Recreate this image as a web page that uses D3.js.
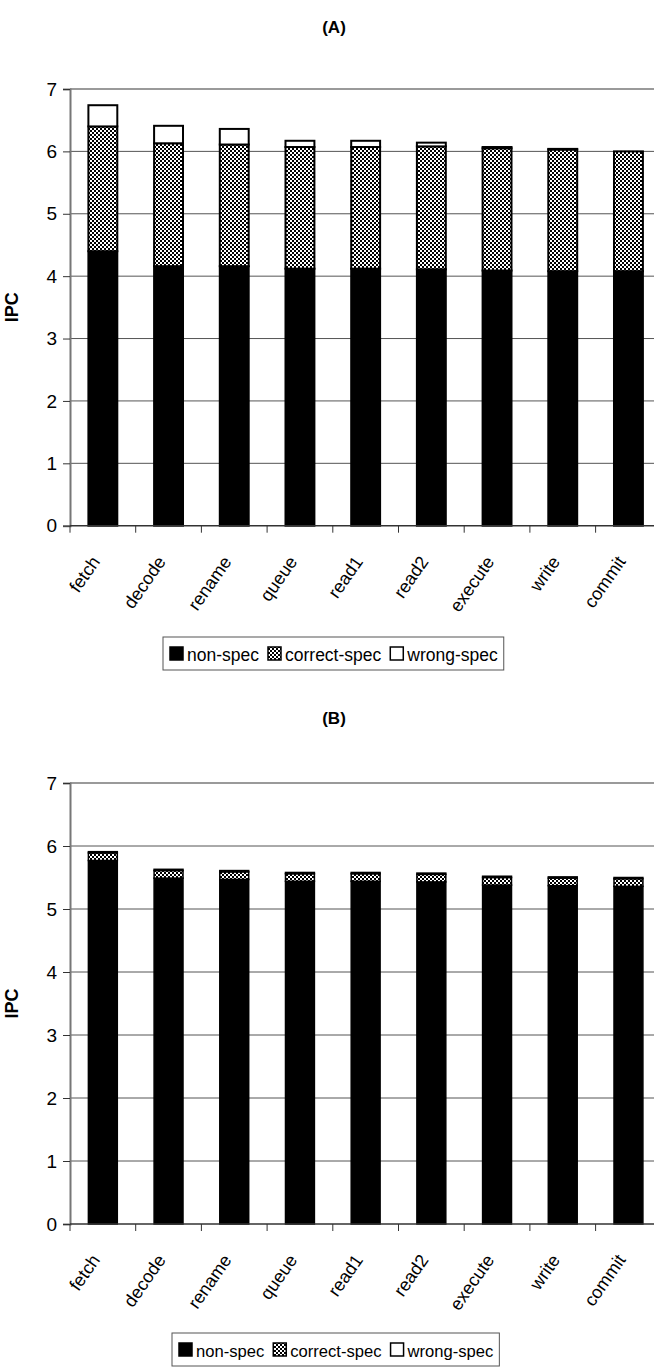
<!DOCTYPE html>
<html>
<head>
<meta charset="utf-8">
<script src="https://cdn.jsdelivr.net/npm/d3@7"></script>
<style>
  html, body { margin: 0; padding: 0; background: #fff; }
  svg { display: block; }
  text { font-family: "Liberation Sans", Arial, sans-serif; fill: #000; }
</style>
</head>
<body>
<svg id="chart" width="654" height="1370"></svg>
<script>
// Pipeline stages along the x axis
const stages = ["fetch", "decode", "rename", "queue", "read1", "read2", "execute", "write", "commit"];
const seriesNames = ["non-spec", "correct-spec", "wrong-spec"];
const yTicks = [0, 1, 2, 3, 4, 5, 6, 7];

// Panel (A): IPC per stage
const nonSpecA     = [4.40, 4.16, 4.16, 4.12, 4.12, 4.11, 4.09, 4.08, 4.08];
const correctSpecA = [2.00, 1.97, 1.95, 1.95, 1.95, 1.97, 1.96, 1.95, 1.92];
const wrongSpecA   = [0.34, 0.28, 0.25, 0.10, 0.10, 0.06, 0.02, 0.01, 0.00];

// Panel (B): IPC per stage
const nonSpecB     = [5.77, 5.49, 5.47, 5.44, 5.44, 5.43, 5.38, 5.37, 5.36];
const correctSpecB = [0.12, 0.12, 0.12, 0.12, 0.12, 0.12, 0.12, 0.12, 0.12];
const wrongSpecB   = [0.02, 0.02, 0.02, 0.02, 0.02, 0.02, 0.02, 0.02, 0.02];

const svg = d3.select("#chart");

// checkerboard fill for the correct-spec segments
const defs = svg.append("defs");
const pat = defs.append("pattern")
  .attr("id", "checker").attr("patternUnits", "userSpaceOnUse")
  .attr("width", 4).attr("height", 4);
pat.append("rect").attr("width", 4).attr("height", 4).attr("fill", "#fff");
pat.append("rect").attr("width", 2).attr("height", 2).attr("fill", "#000");
pat.append("rect").attr("x", 2).attr("y", 2).attr("width", 2).attr("height", 2).attr("fill", "#000");

const fills = { "non-spec": "#000", "correct-spec": "url(#checker)", "wrong-spec": "#fff" };

function drawPanel(cfg) {
  const { title, titleY, top, bottom, nonSpec, correctSpec, wrongSpec, legend, strokeW } = cfg;
  const left = 70, right = 661.3;

  const x = d3.scaleBand().domain(stages).range([left, right])
    .paddingInner(0.56).paddingOuter(0.28);
  const y = d3.scaleLinear().domain([0, 7]).range([bottom, top]);

  const g = svg.append("g");

  // title
  g.append("text").attr("x", 334).attr("y", titleY)
    .attr("text-anchor", "middle").attr("font-weight", "bold").attr("font-size", 17)
    .text(title);

  // horizontal gridlines
  g.append("g").selectAll("line").data(yTicks.filter(d => d > 0)).join("line")
    .attr("x1", left).attr("x2", 654)
    .attr("y1", d => y(d)).attr("y2", d => y(d))
    .attr("stroke", d => d === 7 ? "#9a9a9a" : "#555")
    .attr("stroke-width", d => d === 7 ? 2 : 1);

  // stacked bars
  const rows = stages.map((s, i) => ({
    stage: s,
    "non-spec": nonSpec[i], "correct-spec": correctSpec[i], "wrong-spec": wrongSpec[i]
  }));
  const stacked = d3.stack().keys(seriesNames)(rows);
  g.append("g").selectAll("g").data(stacked).join("g")
    .attr("fill", d => fills[d.key])
    .selectAll("rect").data(d => d.filter(p => p[1] - p[0] > 0)).join("rect")
    .attr("x", d => x(d.data.stage))
    .attr("width", x.bandwidth())
    .attr("y", d => y(d[1]))
    .attr("height", d => y(d[0]) - y(d[1]))
    .attr("stroke", "#000").attr("stroke-width", strokeW);

  // y axis
  const yAxis = g.append("g").attr("transform", `translate(${left},0)`)
    .call(d3.axisLeft(y).tickValues(yTicks).tickSize(7).tickPadding(6).tickFormat(d3.format("d")));
  yAxis.select(".domain").attr("stroke", "#777").attr("stroke-width", 2);
  yAxis.selectAll(".tick line").attr("stroke", "#333");
  yAxis.selectAll(".tick text").attr("font-size", 19).attr("font-family", "Liberation Sans, Arial, sans-serif");

  // x axis with ticks between categories
  const boundaries = d3.range(stages.length + 1).map(i => left + i * x.step());
  g.append("line").attr("x1", left).attr("x2", 654)
    .attr("y1", bottom).attr("y2", bottom).attr("stroke", "#333").attr("stroke-width", 1.5);
  g.append("g").selectAll("line").data(boundaries.filter(b => b < 654)).join("line")
    .attr("x1", d => d).attr("x2", d => d)
    .attr("y1", bottom).attr("y2", bottom + 7).attr("stroke", "#333");

  // stage labels, slanted
  g.append("g").selectAll("text").data(stages).join("text")
    .attr("transform", d => `translate(${x(d) + x.bandwidth() / 2 - 2},${bottom + 36}) rotate(-55)`)
    .attr("text-anchor", "end").attr("font-size", 18)
    .text(d => d);

  // y title
  g.append("text")
    .attr("transform", `translate(18,${(top + bottom) / 2}) rotate(-90)`)
    .attr("text-anchor", "middle").attr("font-weight", "bold").attr("font-size", 18)
    .text("IPC");

  // legend
  const lg = g.append("g");
  const box = lg.append("rect").attr("x", legend.x).attr("y", legend.y)
    .attr("width", legend.w).attr("height", 33)
    .attr("fill", "#fff").attr("stroke", "#555").attr("stroke-width", 1);
  let cx = legend.x + 7;
  seriesNames.forEach(name => {
    lg.append("rect").attr("x", cx).attr("y", legend.y + 10).attr("width", 13).attr("height", 13)
      .attr("fill", fills[name]).attr("stroke", "#000").attr("stroke-width", 1.5);
    cx += 17;
    const t = lg.append("text").attr("x", cx).attr("y", legend.y + 23.5)
      .attr("font-size", legend.fs).text(name);
    cx += t.node().getComputedTextLength() + 9;
  });
  box.attr("width", cx - legend.x - 3);
}

drawPanel({
  title: "(A)", titleY: 33, top: 89, bottom: 525.7,
  nonSpec: nonSpecA, correctSpec: correctSpecA, wrongSpec: wrongSpecA,
  legend: { x: 163, y: 637, w: 334, fs: 17.5 }, strokeW: 2
});

drawPanel({
  title: "(B)", titleY: 724, top: 783, bottom: 1224,
  nonSpec: nonSpecB, correctSpec: correctSpecB, wrongSpec: wrongSpecB,
  legend: { x: 172, y: 1333, w: 325, fs: 16.6 }, strokeW: 1.5
});
</script>
</body>
</html>
